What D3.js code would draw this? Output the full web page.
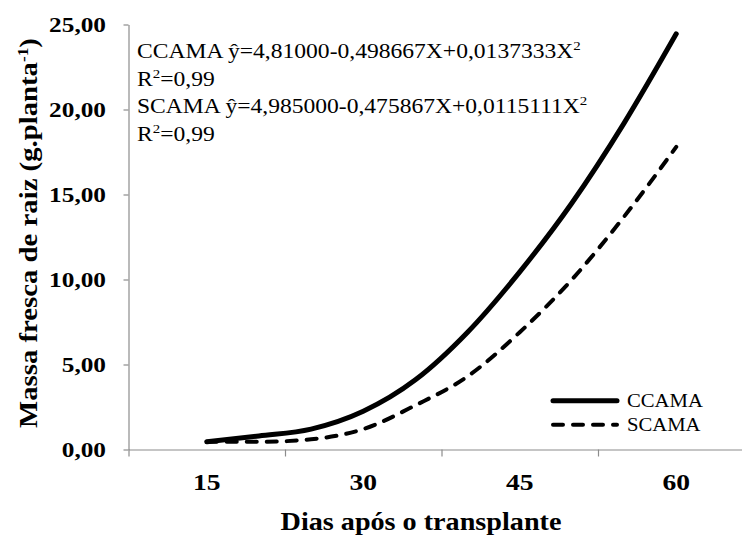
<!DOCTYPE html>
<html>
<head>
<meta charset="utf-8">
<script src="https://cdn.jsdelivr.net/npm/d3@7"></script>
<style>
  body { margin: 0; background: #fff; }
  text { font-family: "Liberation Serif", "Times New Roman", serif; fill: #000; }
</style>
</head>
<body>
<svg width="742" height="536"></svg>
<script>
const days = [15, 20, 25, 30, 35, 40, 45, 50, 55, 60]
const ccama = [0.45, 0.8, 1.2, 2.25, 4.1, 6.9, 10.45, 14.5, 19.2, 24.45]
const scama = [0.45, 0.45, 0.6, 1.2, 2.6, 4.3, 6.9, 10.0, 13.7, 17.8]
const xLabels = [15, 30, 45, 60]
const xBounds = [7.5, 22.5, 37.5, 52.5, 67.5]
const yTicks = [0, 5, 10, 15, 20, 25]
const seriesNames = ["CCAMA", "SCAMA"]

const sx = 1.15  // glyphs in the original are wider than Times

const svg = d3.select("svg")

const x = d3.scaleLinear()
  .domain([7.5, 67.5])
  .range([128.5, 754.5])

const y = d3.scaleLinear()
  .domain([0, 25])
  .range([449.5, 24.5])

const comma = d => d3.format(".2f")(d).replace(".", ",")

// axes
svg.append("g")
  .attr("transform", "translate(128.5,0)")
  .call(d3.axisLeft(y).tickValues(yTicks).tickSize(5).tickSizeOuter(0).tickFormat(""))
svg.append("g")
  .attr("transform", "translate(0,449.5)")
  .call(d3.axisBottom(x).tickValues(xBounds).tickSize(7).tickSizeOuter(0).tickFormat(""))
svg.selectAll(".domain, .tick line").attr("stroke", "#8c8c8c").attr("stroke-width", 1.2)

function label(txt, px, py, size, bold, anchor, rot) {
  return svg.append("text")
    .attr("transform", `translate(${px},${py})` + (rot ? ` rotate(${rot})` : "") + ` scale(${sx},1)`)
    .attr("text-anchor", anchor || "start")
    .style("font-size", size + "px")
    .style("font-weight", bold ? "bold" : "normal")
    .text(txt)
}

yTicks.forEach(t => label(comma(t), 106, y(t) + 7.5, 22, true, "end"))
xLabels.forEach(t => label(t, x(t), 490, 24, true, "middle"))

label("Dias após o transplante", 421, 530, 24.5, true, "middle")
const yt = label("Massa fresca de raiz (g.planta", 37, 233, 25, true, "middle", -90)
yt.append("tspan").attr("dy", -9).style("font-size", "15px").text("-1")
yt.append("tspan").attr("dy", 9).text(")")

// lines
const line = d3.line()
  .x(d => x(d[0]))
  .y(d => y(d[1]))
  .curve(d3.curveMonotoneX)

svg.append("path")
  .datum(days.map((d, i) => [d, scama[i]]))
  .attr("d", line)
  .attr("fill", "none")
  .attr("stroke", "#000")
  .attr("stroke-width", 4)
  .attr("stroke-linecap", "round")
  .attr("stroke-dasharray", "10,10")

svg.append("path")
  .datum(days.map((d, i) => [d, ccama[i]]))
  .attr("d", line)
  .attr("fill", "none")
  .attr("stroke", "#000")
  .attr("stroke-width", 5)
  .attr("stroke-linecap", "round")

// equations
function eq(parts, py) {
  const t = label("", 137, py, 20.5, false, "start")
  parts.forEach(p => {
    if (p.sup) t.append("tspan").attr("dy", -8).style("font-size", "13px").text(p.sup)
    else t.append("tspan").attr("dy", p.after ? 8 : 0).text(p.txt)
  })
}
eq([{txt: "CCAMA ŷ=4,81000-0,498667X+0,0137333X"}, {sup: "2"}], 58)
eq([{txt: "R"}, {sup: "2"}, {txt: "=0,99", after: true}], 85.5)
eq([{txt: "SCAMA ŷ=4,985000-0,475867X+0,0115111X"}, {sup: "2"}], 113)
eq([{txt: "R"}, {sup: "2"}, {txt: "=0,99", after: true}], 140.5)

// legend
const legY = [400.7, 424.7]
seriesNames.forEach((name, i) => {
  svg.append("line")
    .attr("x1", 553).attr("x2", 617)
    .attr("y1", legY[i]).attr("y2", legY[i])
    .attr("stroke", "#000")
    .attr("stroke-width", i === 0 ? 5 : 4)
    .attr("stroke-linecap", "round")
    .attr("stroke-dasharray", i === 0 ? null : "10,10")
  label(name, 627, legY[i] + 6.5, 18, false, "start")
})
</script>
</body>
</html>
